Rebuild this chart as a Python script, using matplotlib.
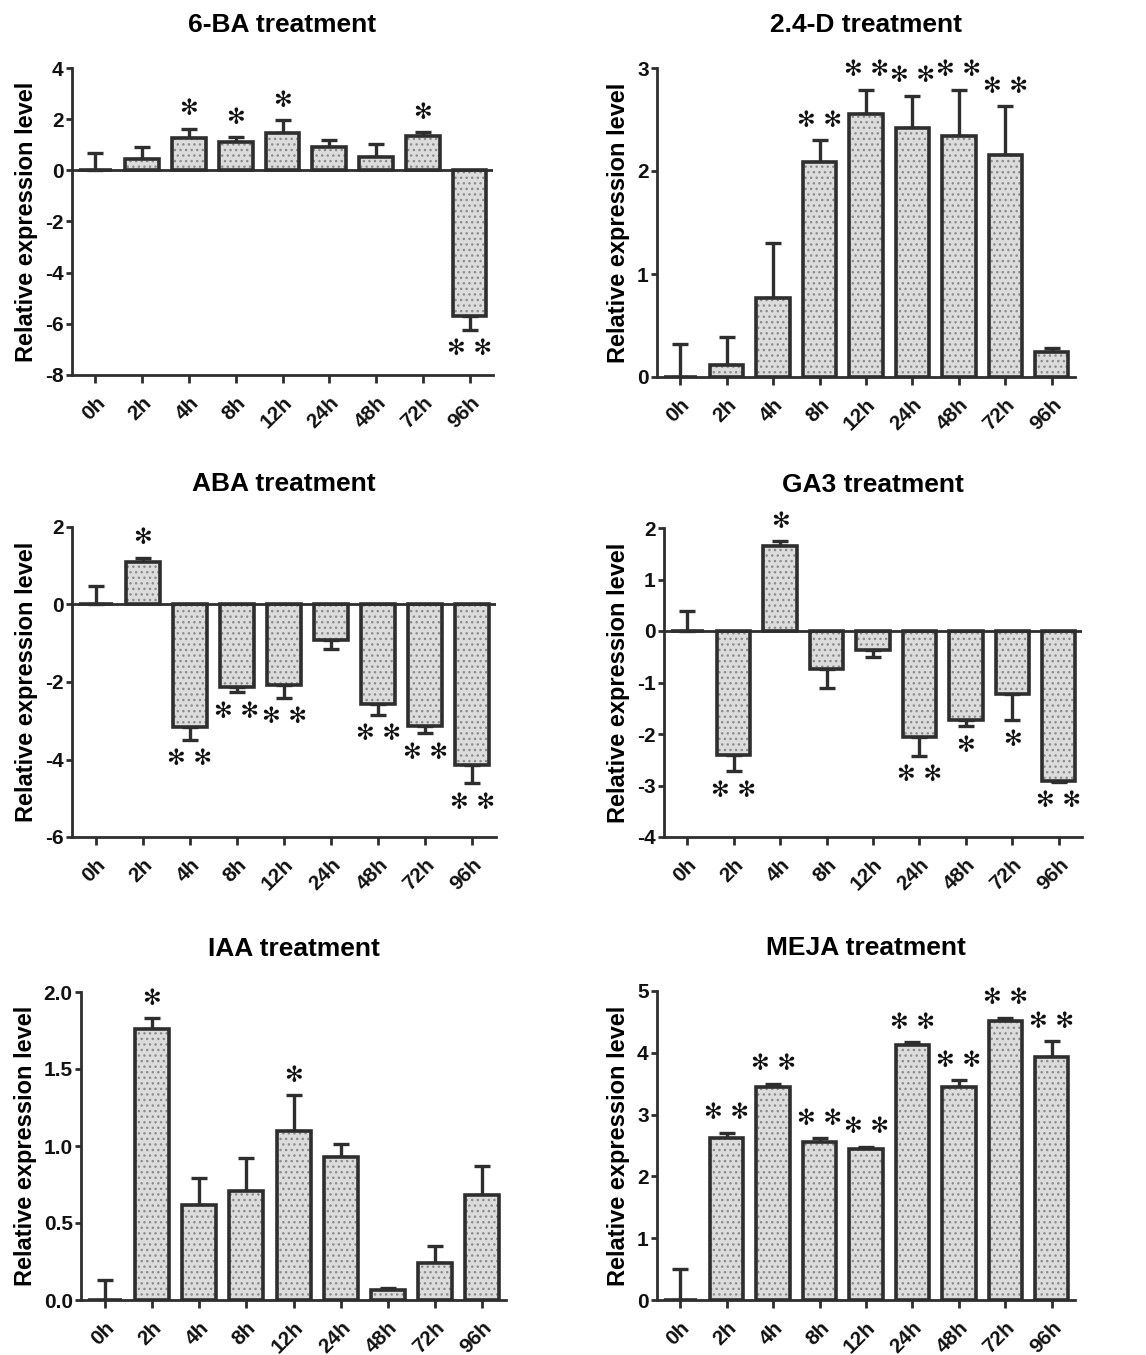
import numpy as np
import matplotlib
matplotlib.use("Agg")
import matplotlib.pyplot as plt
from matplotlib.transforms import ScaledTranslation

plt.rcParams['font.family'] = ['Liberation Sans', 'DejaVu Sans']
plt.rcParams['font.weight'] = 'bold'
plt.rcParams['hatch.linewidth'] = 1.0
plt.rcParams['axes.unicode_minus'] = False

times = ["0h", "2h", "4h", "8h", "12h", "24h", "48h", "72h", "96h"]

# 6-BA
ba_mean = [0.0, 0.45, 1.26, 1.09, 1.45, 0.93, 0.52, 1.35, -5.68]
ba_err = [0.67, 0.48, 0.36, 0.21, 0.50, 0.26, 0.52, 0.13, 0.55]
ba_sig = ["", "", "*", "*", "*", "", "", "*", "**"]

# 2.4-D
d24_mean = [0.0, 0.12, 0.77, 2.09, 2.55, 2.42, 2.34, 2.16, 0.24]
d24_err = [0.32, 0.27, 0.53, 0.21, 0.24, 0.31, 0.45, 0.47, 0.04]
d24_sig = ["", "", "", "**", "**", "**", "**", "**", ""]

# ABA
aba_mean = [0.0, 1.10, -3.15, -2.13, -2.09, -0.91, -2.56, -3.13, -4.14]
aba_err = [0.49, 0.11, 0.34, 0.14, 0.32, 0.23, 0.28, 0.19, 0.47]
aba_sig = ["", "*", "**", "**", "**", "", "**", "**", "**"]

# GA3
ga3_mean = [0.0, -2.40, 1.66, -0.73, -0.37, -2.06, -1.73, -1.23, -2.92]
ga3_err = [0.38, 0.32, 0.08, 0.37, 0.14, 0.36, 0.12, 0.50, 0.01]
ga3_sig = ["", "**", "*", "", "", "**", "*", "*", "**"]

# IAA
iaa_mean = [0.0, 1.76, 0.62, 0.71, 1.10, 0.93, 0.065, 0.24, 0.68]
iaa_err = [0.13, 0.07, 0.17, 0.21, 0.23, 0.08, 0.015, 0.11, 0.19]
iaa_sig = ["", "*", "", "", "*", "", "", "", ""]

# MEJA
meja_mean = [0.0, 2.62, 3.45, 2.55, 2.45, 4.13, 3.44, 4.51, 3.94]
meja_err = [0.50, 0.09, 0.05, 0.07, 0.03, 0.04, 0.12, 0.06, 0.25]
meja_sig = ["", "**", "**", "**", "**", "**", "**", "**", "**"]

panels = [
    ("6-BA treatment", ba_mean, ba_err, ba_sig, (-8, 4), np.arange(-8, 5, 2)),
    ("2.4-D treatment", d24_mean, d24_err, d24_sig, (0, 3), np.arange(0, 4, 1)),
    ("ABA treatment", aba_mean, aba_err, aba_sig, (-6, 2), np.arange(-6, 3, 2)),
    ("GA3 treatment", ga3_mean, ga3_err, ga3_sig, (-4, 2), np.arange(-4, 3, 1)),
    ("IAA treatment", iaa_mean, iaa_err, iaa_sig, (0, 2), np.arange(0, 2.01, 0.5)),
    ("MEJA treatment", meja_mean, meja_err, meja_sig, (0, 5), np.arange(0, 6, 1)),
]

# axes boxes in pixels: left, right, top, bottom
W, H = 1146, 1355
boxes = [
    (72, 493, 68, 375),
    (657, 1075, 68, 377),
    (72, 496, 527, 837),
    (664, 1082, 528, 837),
    (81, 506, 992, 1300),
    (657, 1075, 991, 1300),
]

dark = '#2e2e2e'
fig = plt.figure(figsize=(W / 100, H / 100), dpi=100)
shift = ScaledTranslation(7 / 72, 0, fig.dpi_scale_trans)

for (title, mean, err, sig, ylim, yticks), (l, r, t, b) in zip(panels, boxes):
    ax = fig.add_axes([l / W, 1 - b / H, (r - l) / W, (b - t) / H])
    x = np.arange(len(times))
    mean = np.array(mean)
    err = np.array(err)
    lower = np.where(mean < 0, err, 0)
    upper = np.where(mean >= 0, err, 0)

    ax.errorbar(x, mean, yerr=[lower, upper], fmt='none', ecolor=dark,
                elinewidth=2.4, capsize=6, capthick=2.4, zorder=2)
    ax.bar(x, mean, width=0.72, color='#dcdcdc', edgecolor='#8c8c8c',
           hatch='...', linewidth=0, zorder=3)
    ax.bar(x, mean, width=0.72, fill=False, edgecolor=dark, linewidth=2.6, zorder=4)

    if ylim[0] < 0:
        ax.axhline(0, color=dark, linewidth=2, zorder=5)

    for xi, m, e, s in zip(x, mean, err, sig):
        if not s:
            continue
        label = ' '.join(['\u273b'] * len(s))
        if m >= 0:
            y, dy = m + e, 14
        else:
            y, dy = m - e, -14
        ax.annotate(label, (xi, y), xytext=(0, dy), textcoords='offset points',
                    ha='center', va='center', fontsize=16, color='#111111',
                    family='DejaVu Sans')

    ax.set_xlim(-0.5, 8.5)
    ax.set_ylim(*ylim)
    ax.set_yticks(yticks)
    if title.startswith("IAA"):
        ax.set_yticklabels(["%.1f" % v for v in yticks])
    ax.set_xticks(x)
    ax.set_xticklabels(times, rotation=45, ha='right', va='top',
                       rotation_mode='anchor')
    for lab in ax.get_xticklabels():
        lab.set_transform(lab.get_transform() + shift)
    ax.tick_params(axis='x', length=6, width=2, colors=dark, labelsize=15,
                   labelcolor='#111111', pad=7)
    ax.tick_params(axis='y', length=4, width=2, colors=dark, labelsize=15,
                   labelcolor='#111111', pad=2)
    for sp in ['top', 'right']:
        ax.spines[sp].set_visible(False)
    for sp in ['left', 'bottom']:
        ax.spines[sp].set_linewidth(2)
        ax.spines[sp].set_color(dark)

    ax.set_title(title, fontsize=19, fontweight='bold', pad=26)
    ax.set_ylabel("Relative expression level", fontsize=17, fontweight='bold',
                  labelpad=5)

fig.savefig("out.png", dpi=100, facecolor='white')
